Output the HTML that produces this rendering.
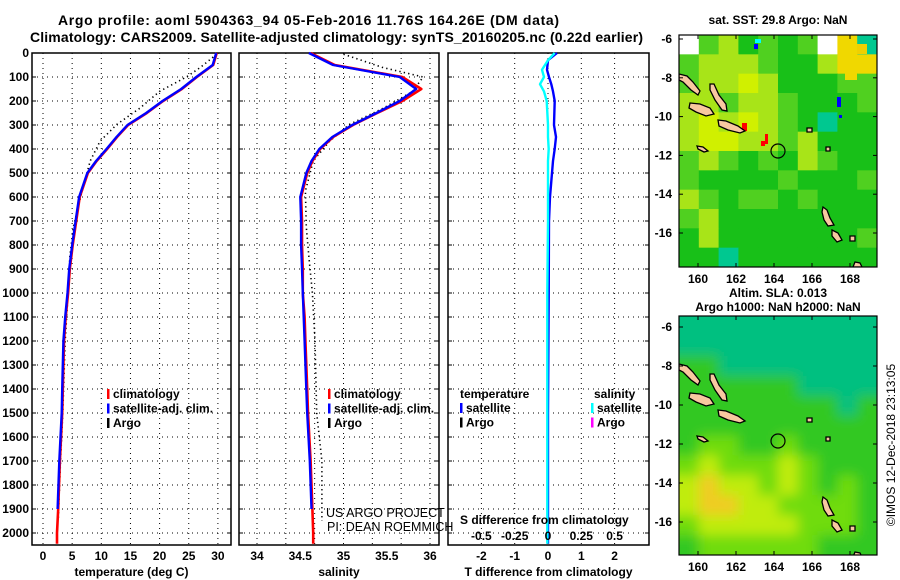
<!DOCTYPE html>
<html><head><meta charset="utf-8"><style>
html,body{margin:0;padding:0;background:#fff;}
svg{display:block;font-family:"Liberation Sans",Arial,sans-serif;}
.t{font-weight:bold;font-size:12px;fill:#000;}
.h{font-weight:bold;font-size:14px;fill:#000;}
</style></head><body>
<svg id="fig" width="900" height="580" viewBox="0 0 900 580">
<text class="h" x="58" y="25" textLength="501">Argo profile: aoml 5904363_94 05-Feb-2016 11.76S 164.26E (DM data)</text>
<text class="h" x="30" y="42" textLength="613">Climatology: CARS2009. Satellite-adjusted climatology: synTS_20160205.nc (0.22d earlier)</text>
<g id="panels"></g>
<g id="maps"></g>
<text x="895" y="445" font-size="12" text-anchor="middle" transform="rotate(-90 895 445)">©IMOS 12-Dec-2018 23:13:05</text>
</svg>
<script>
// ---------- data ----------
const climDepth = [0,50,100,150,200,250,300,350,400,450,500,600,700,800,900,1000,1100,1200,1400,1500,1700,1900,2000,2045];
const climTemp  = [29.8,29.2,26.4,23.8,20.6,17.8,14.6,12.7,11.0,9.2,7.7,6.3,5.7,5.1,4.6,4.3,3.9,3.6,3.4,3.3,2.9,2.6,2.4,2.4];
const climSal   = [34.62,34.9,35.68,35.9,35.68,35.39,35.11,34.88,34.73,34.64,34.58,34.51,34.52,34.52,34.53,34.53,34.55,34.56,34.58,34.59,34.62,34.64,34.65,34.65];
const satTemp   = [29.7,29.1,26.3,23.7,20.5,17.7,14.5,12.6,10.9,9.1,7.6,6.2,5.6,5.0,4.5,4.2,3.8,3.5,3.3,3.2,2.8,2.5,2.3,2.3];
const satSal    = [34.6,34.88,35.65,35.84,35.65,35.38,35.1,34.87,34.72,34.63,34.57,34.5,34.51,34.51,34.52,34.53,34.54,34.55,34.57,34.58,34.61,34.63,34.64,34.64];
const argoDepth = [5,60,100,160,230,297,367,450,575,725,850,1000,1200,1500,1700,1950];
const argoTemp  = [29.8,27.0,24.6,20.0,16.6,12.7,9.8,8.1,6.7,5.2,4.6,4.3,3.8,3.4,3.0,2.6];
const argoSal   = [35.0,35.45,35.92,35.8,35.46,35.07,34.84,34.65,34.56,34.57,34.6,34.64,34.67,34.69,34.75,34.75];
const diffDepth = [0,30,70,100,130,160,200,300,350,400,450,500,600,700,1000,1500,2045];
const diffTemp  = [0.27,0.0,-0.03,0.03,0.1,0.15,0.2,0.18,0.24,0.2,0.15,0.12,0.06,0.03,0.02,0.0,0.0];
const diffSal   = [0.05,0.0,-0.045,-0.03,-0.06,-0.03,-0.01,0.0,0.0,0.005,0.0,0.0,0.0,0.0,-0.005,-0.005,-0.005];
const depthTicks = [0,100,200,300,400,500,600,700,800,900,1000,1100,1200,1300,1400,1500,1600,1700,1800,1900,2000];
const tempTicks = [0,5,10,15,20,25,30];
const salTicks = [34,34.5,35,35.5,36];
const tdTicks = [-2,-1,0,1,2];
const sdTicks = [-0.5,-0.25,0,0.25,0.5];
const sstRows = ["WgYGgGgWOT","gYYYgGGYOO","gYYyYGGGgg","YYgYYgGGGg","YyYyYgGTGG","YyyYYgYGGG","gYgGgGYgGG","gGGGGgGGGg","YgGggGgGGG","gYGGGGGGGG","GYGGGGGGGg","GGTGGGGGGG"];
const slaRows = ["TTTTTTTTTT","TTTTTTTTTT","GGTTTTTTTT","GGGGGGTTTT","GGGGGGGGTG","GGGGGGGGGG","GggGGgGGGG","gYgggYgGGG","YOYYgYgGgG","YOOYYggggG","gYYYYYgggG","GggggggGGG"];
const latTicks = [-6,-8,-10,-12,-14,-16];
const lonTicks = [160,162,164,166,168];

// ---------- helpers ----------
const NS="http://www.w3.org/2000/svg";
function mk(tag,attrs,parent,txt){const e=document.createElementNS(NS,tag);for(const k in attrs)e.setAttribute(k,attrs[k]);if(txt!==undefined)e.textContent=txt;parent.appendChild(e);return e;}
const Y0=53, YS=0.24, YB=545;
const yD = d => Y0 + d*YS;
const xT = v => 43 + v*5.83;
const xS = v => 257 + (v-34)*86.5;
const xTD = v => 548 + v*33.3;
const xSD = v => 548 + v*133.2;
const panels=document.getElementById('panels');

function panel(name,x0,x1,xf,ticks,gridVals,label,fmt){
  const g=mk('g',{},panels);
  
  
  depthTicks.forEach(d=>{ if(d>0){const l=mk('line',{x1:x0,x2:x1,y1:yD(d),y2:yD(d),stroke:'#000','stroke-width':1,'stroke-dasharray':'1 4'},g);
    
    }
    mk('line',{x1:x0,x2:x0+4,y1:yD(d),y2:yD(d),stroke:'#000'},g);mk('line',{x1:x1-4,x2:x1,y1:yD(d),y2:yD(d),stroke:'#000'},g);});
  gridVals.forEach(v=>{const l=mk('line',{x1:xf(v),x2:xf(v),y1:Y0,y2:YB,stroke:'#000','stroke-width':1,'stroke-dasharray':'1 4'},g);
    
    });
  ticks.forEach(v=>{const t=mk('text',{class:'t',x:xf(v),y:560,'text-anchor':'middle'},g,fmt?fmt(v):String(v));
    
    });
  const r=mk('rect',{x:x0,y:Y0,width:x1-x0,height:YB-Y0,fill:'none',stroke:'#000','stroke-width':1.5},g);
  
  
  const al=mk('text',{class:'t',x:(x0+x1)/2,y:576,'text-anchor':'middle'},g,label);
  
  
  return g;
}
function line(g,xs,ys,xf,color,w,dash,name){
  const pts=xs.map((v,i)=>xf(v).toFixed(1)+','+yD(ys[i]).toFixed(1)).join(' ');
  const p=mk('polyline',{points:pts,fill:'none',stroke:color,'stroke-width':w,'stroke-linejoin':'round'},g);
  if(dash)p.setAttribute('stroke-dasharray',dash);
  
  
}
function legend(g,x,y,items){
  items.forEach((it,i)=>{mk('rect',{x:x,y:y+i*14.5-9,width:2.5,height:10,fill:it[0]},g);
    const t=mk('text',{class:'t',x:x+6,y:y+i*14.5,'font-size':'13'},g,it[1]);
    
    });
}

depthTicks.forEach(d=>{const t=mk('text',{class:'t',x:29,y:yD(d)+4,'text-anchor':'end'},panels,String(d));
  
  });

const g1=panel('temperature-panel',32,231,xT,tempTicks,tempTicks,'temperature (deg C)');
line(g1,argoTemp,argoDepth,xT,'#000',1.6,'1.3 3.2','argo-temperature-line');
line(g1,climTemp,climDepth,xT,'#f00',2.6,null,'climatology-temperature-line');
line(g1,satTemp.slice(0,22),climDepth.slice(0,22),xT,'#00f',2.4,null,'satellite-temperature-line');
legend(g1,107,398,[['#f00','climatology'],['#00f','satellite-adj. clim.'],['#000','Argo']]);

const salGrid=[34,34+1/3,34+2/3,35,35+1/3,35+2/3,36];
const g2=panel('salinity-panel',239,439,xS,salTicks,salGrid,'salinity');
line(g2,argoSal,argoDepth,xS,'#000',1.6,'1.3 3.2','argo-salinity-line');
line(g2,climSal,climDepth,xS,'#f00',2.6,null,'climatology-salinity-line');
line(g2,satSal.slice(0,22),climDepth.slice(0,22),xS,'#00f',2.4,null,'satellite-salinity-line');
legend(g2,328,398,[['#f00','climatology'],['#00f','satellite-adj. clim.'],['#000','Argo']]);
mk('text',{x:326,y:517,'font-size':'12.5'},g2,'US ARGO PROJECT');
mk('text',{x:327,y:531,'font-size':'12.5'},g2,'PI: DEAN ROEMMICH');

const g3=panel('difference-panel',448,649,xTD,tdTicks,tdTicks,'T difference from climatology');
line(g3,diffTemp,diffDepth,xTD,'#00f',2.4,null,'temperature-difference-line');
line(g3,diffSal,diffDepth,xSD,'#0ff',2.4,null,'salinity-difference-line');
mk('text',{class:'t',x:460,y:398,'font-size':'13'},g3,'temperature');
mk('text',{class:'t',x:594,y:398,'font-size':'13'},g3,'salinity');
legend(g3,460,412,[['#00f','satellite'],['#000','Argo']]);
legend(g3,591,412,[['#0ff','satellite'],['#f0f','Argo']]);
mk('text',{class:'t',x:460,y:524,'font-size':'13'},g3,'S difference from climatology');
sdTicks.forEach(v=>{const t=mk('text',{class:'t',x:xSD(v),y:540,'text-anchor':'middle'},g3,String(v));
  
  });

// ---------- maps ----------
const maps=document.getElementById('maps');
const sstCol={W:'#fff',g:'#50d020',Y:'#a8e418',y:'#d0f000',O:'#f0d800',T:'#00c890',G:'#18c018'};
const slaCol={T:'#00c080',G:'#30c820',g:'#70dc10',Y:'#c0ec10',O:'#f0cc20'};
const islands=["679,74 687,76 693,82 700,91 698,95 691,90 683,82 679,80","710,84 714,84 719,95 726,104 727,111 722,110 715,100 710,90","690,103 700,104 710,108 714,114 706,116 696,112 689,108","718,120 726,121 738,126 745,131 740,133 728,130 719,126","697,146 703,147 708,151 704,152 698,149","823,207 827,210 830,218 834,225 828,226 824,220 822,212","832,230 838,233 842,240 837,242 832,236","850,236 855,236 855,241 850,241","855,262 860,263 862,267 853,267","807,128 812,128 812,132 807,132","826,147 830,147 830,151 826,151"];
function map(name,top,bot,rows,cols,latY,title,extra,blur,circY){
  const g=mk('g',{},maps);
  
  
  const L=679,R=877,nr=rows.length,nc=rows[0].length,cw=(R-L)/nc,ch=(bot-top)/nr;
  const cid=name+'-clip';
  const defs=mk('defs',{},g);
  const cp=mk('clipPath',{id:cid},defs);mk('rect',{x:L,y:top,width:R-L,height:bot-top},cp);
  if(blur){const f=mk('filter',{id:name+'-bl',x:'-10%',y:'-10%',width:'120%',height:'120%'},defs);mk('feGaussianBlur',{stdDeviation:6},f);}
  const cg=mk('g',{'clip-path':'url(#'+cid+')'},g);
  const inner=mk('g',blur?{filter:'url(#'+name+'-bl)'}:{},cg);
  rows.forEach((row,r)=>{[...row].forEach((c,k)=>{const e=mk('rect',{x:L+k*cw-(blur?20*(k==0):0),y:top+r*ch-(blur?20*(r==0):0),width:cw+0.6+(blur?20*(k==0||k==nc-1):0),height:ch+0.6+(blur?20*(r==0||r==nr-1):0),fill:cols[c]},inner);
    
    });});
  extra(cg);
  const dy=circY-151;
  const ig=mk('g',{transform:'translate(0,'+dy+')'},cg);
  islands.forEach(p=>mk('polygon',{points:p,fill:'#f8c8a0',stroke:'#000','stroke-width':1.3},ig));
  const c=mk('circle',{cx:778,cy:circY,r:7,fill:'none',stroke:'#000','stroke-width':1.2},g);
  
  
  mk('rect',{x:L,y:top,width:R-L,height:bot-top,fill:'none',stroke:'#000','stroke-width':1.2},g);
  latTicks.forEach(v=>{const y=latY(v);mk('line',{x1:L,x2:L+4,y1:y,y2:y,stroke:'#000'},g);mk('line',{x1:R-4,x2:R,y1:y,y2:y,stroke:'#000'},g);
    const t=mk('text',{class:'t',x:672,y:y+4,'text-anchor':'end'},g,String(v));
    
    });
  lonTicks.forEach(v=>{const x=698+(v-160)*19;mk('line',{x1:x,x2:x,y1:bot,y2:bot-4,stroke:'#000'},g);mk('line',{x1:x,x2:x,y1:top,y2:top+4,stroke:'#000'},g);
    const t=mk('text',{class:'t',x:x,y:bot+16,'text-anchor':'middle'},g,String(v));
    
    });
  title.forEach((s,i)=>mk('text',{class:'t',x:778,y:(i==0&&title.length==1)?top-11:top-19+i*14,'text-anchor':'middle'},g,s));
}
map('sst-map',35,267,sstRows,sstCol,v=>39+(-6-v)*19.4,['sat. SST: 29.8 Argo: NaN'],cg=>{
  [[742,123,5,8,'#f00'],[765,134,3,10,'#f00'],[761,141,4,5,'#f00'],[837,97,4,10,'#00f'],[839,115,3,3,'#00f'],[754,44,4,5,'#00f'],[755,39,6,4,'#0ff'],[857,44,10,10,'#f0d000'],[845,62,12,18,'#f0d800']].forEach(a=>mk('rect',{x:a[0],y:a[1],width:a[2],height:a[3],fill:a[4]},cg));
},false,151);
map('sla-map',316,555,slaRows,slaCol,v=>327+(-6-v)*19.5,['Altim. SLA: 0.013','Argo h1000: NaN h2000: NaN'],cg=>{},true,441);
</script>
</body></html>
